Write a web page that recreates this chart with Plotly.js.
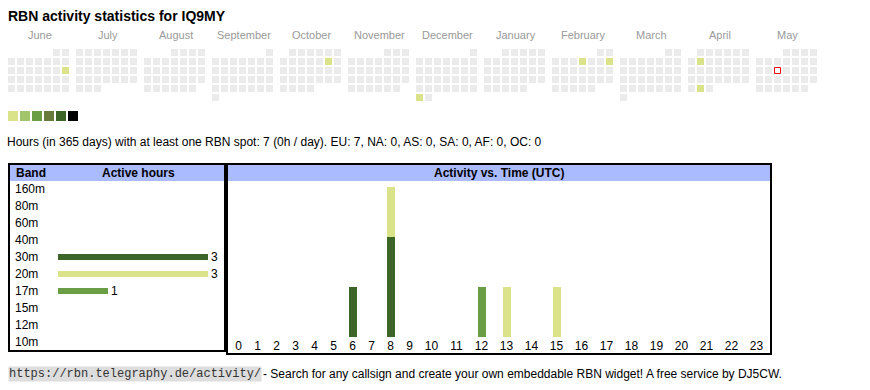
<!DOCTYPE html>
<html><head><meta charset="utf-8">
<script src="https://cdn.plot.ly/plotly-3.0.1.min.js"></script>
<style>html,body{margin:0;padding:0;background:#fff}</style>
</head><body><div id="chart" style="width:870px;height:390px"></div>
<script>
// ---------- data ----------
const callsign = 'IQ9MY';
const monthNames = ['June','July','August','September','October','November','December','January','February','March','April','May'];
const monthYears = [2024,2024,2024,2024,2024,2024,2024,2025,2025,2025,2025,2025];
const monthNums  = [6,7,8,9,10,11,12,1,2,3,4,5];
const activeDays   = ['2024-06-16','2024-10-12','2024-12-30','2025-02-06','2025-02-09','2025-04-08','2025-04-29'];
const activeLevels = [1,1,1,1,1,1,1];
const todayDate = '2025-05-14';
const levelColors = ['#dbe38a','#a2c46a','#6a9e44','#697b3c','#3c6527','#000000'];
const bands      = ['160m','80m','60m','40m','30m','20m','17m','15m','12m','10m'];
const bandHours  = [0,0,0,0,3,3,1,0,0,0];
const bandColors = ['#7a1f5c','#a33b3b','#c46a2a','#3a6ea5','#3c6527','#dbe38a','#6a9e44','#2a8a8a','#6a4aa5','#a58a2a'];
const hourLabels = ['0','1','2','3','4','5','6','7','8','9','10','11','12','13','14','15','16','17','18','19','20','21','22','23'];
const hours30m = [0,0,0,0,0,0,1,0,2,0,0,0,0,0,0,0,0,0,0,0,0,0,0,0];
const hours20m = [0,0,0,0,0,0,0,0,1,0,0,0,0,1,0,1,0,0,0,0,0,0,0,0];
const hours17m = [0,0,0,0,0,0,0,0,0,0,0,0,1,0,0,0,0,0,0,0,0,0,0,0];
const summaryText = 'Hours (in 365 days) with at least one RBN spot: 7 (0h / day). EU: 7, NA: 0, AS: 0, SA: 0, AF: 0, OC: 0';
const footerUrl = 'https://rbn.telegraphy.de/activity/';
const footerText = '- Search for any callsign and create your own embeddable RBN widget! A free service by DJ5CW.';

// ---------- layout helpers ----------
const W = 870, H = 390;
const px = x => x / W;
const py = y => 1 - y / H;
const FONT = 'Arial, "Liberation Sans", sans-serif';
const CAL_X0 = 8, CAL_Y0 = 49, CELL = 9, BLOCK = 68;

// calendar cells
function cellPos(y, m, d) {
  const mi = monthYears.findIndex((yy, i) => yy === y && monthNums[i] === m);
  const first = (new Date(Date.UTC(y, m - 1, 1)).getUTCDay() + 6) % 7; // Monday = 0
  const idx = first + d - 1;
  return [CAL_X0 + mi * BLOCK + (idx % 7) * CELL + 3.5, CAL_Y0 + Math.floor(idx / 7) * CELL + 3.5];
}
const gx = [], gy = [];
monthNums.forEach((m, i) => {
  const y = monthYears[i];
  const n = new Date(Date.UTC(y, m, 0)).getUTCDate();
  for (let d = 1; d <= n; d++) { const p = cellPos(y, m, d); gx.push(p[0]); gy.push(p[1]); }
});
const ax = [], ay = [], ac = [];
activeDays.forEach((s, i) => {
  const [y, m, d] = s.split('-').map(Number);
  const p = cellPos(y, m, d); ax.push(p[0]); ay.push(p[1]); ac.push(levelColors[activeLevels[i] - 1]);
});
const tp = cellPos(...todayDate.split('-').map(Number));

// hour columns (HTML-table-like widths from label length)
const colW = hourLabels.map(l => 13 + 6 * l.length);
const hourCenters = [];
colW.reduce((acc, w) => { hourCenters.push(acc + w / 2); return acc + w; }, 0);

const traces = [
  {type:'scatter', mode:'markers', x:gx, y:gy, xaxis:'x', yaxis:'y', hoverinfo:'skip',
   marker:{symbol:'square', size:7, color:'#ebebeb', line:{width:0}}},
  {type:'scatter', mode:'markers', x:ax, y:ay, xaxis:'x', yaxis:'y', hoverinfo:'skip',
   marker:{symbol:'square', size:7, color:ac, line:{width:0}}},
  {type:'scatter', mode:'markers', x:[tp[0]], y:[tp[1]], xaxis:'x', yaxis:'y', hoverinfo:'skip',
   marker:{symbol:'square', size:6, color:'#ffffff', line:{width:1, color:'#ff0000'}}},
  {type:'scatter', mode:'markers', x:levelColors.map((c, i) => 13 + i * 12), y:levelColors.map(() => 116),
   xaxis:'x', yaxis:'y', hoverinfo:'skip',
   marker:{symbol:'square', size:10, color:levelColors, line:{width:0}}},
  {type:'bar', orientation:'h', x:bandHours, y:bands, xaxis:'x3', yaxis:'y3', width:0.41,
   marker:{color:bandColors, line:{width:0}},
   text:bandHours.map(v => v > 0 ? String(v) : ''), textposition:'outside', constraintext:'none',
   cliponaxis:false, textfont:{family:FONT, size:12, color:'#000'}, hoverinfo:'skip'},
  {type:'bar', x:hourCenters, y:hours30m, xaxis:'x2', yaxis:'y2', width:8, marker:{color:bandColors[4], line:{width:0}}, hoverinfo:'skip'},
  {type:'bar', x:hourCenters, y:hours20m, xaxis:'x2', yaxis:'y2', width:8, marker:{color:bandColors[5], line:{width:0}}, hoverinfo:'skip'},
  {type:'bar', x:hourCenters, y:hours17m, xaxis:'x2', yaxis:'y2', width:8, marker:{color:bandColors[6], line:{width:0}}, hoverinfo:'skip'}
];

const annotations = [
  {text:'RBN activity statistics for ' + callsign, x:px(6), y:py(16), xref:'paper', yref:'paper', xanchor:'left', yanchor:'middle',
   showarrow:false, font:{family:FONT, size:14, weight:'bold', color:'#000'}},
  {text:summaryText, x:px(5), y:py(142), xref:'paper', yref:'paper', xanchor:'left', yanchor:'middle',
   showarrow:false, font:{family:FONT, size:12, color:'#000'}},
  {text:'Band', x:px(14), y:py(173), xref:'paper', yref:'paper', xanchor:'left', yanchor:'middle',
   showarrow:false, font:{family:FONT, size:12, weight:'bold', color:'#000'}},
  {text:'Active hours', x:px(138), y:py(173), xref:'paper', yref:'paper', xanchor:'center', yanchor:'middle',
   showarrow:false, font:{family:FONT, size:12, weight:'bold', color:'#000'}},
  {text:'Activity vs. Time (UTC)', x:px(499), y:py(173), xref:'paper', yref:'paper', xanchor:'center', yanchor:'middle',
   showarrow:false, font:{family:FONT, size:12, weight:'bold', color:'#000'}},
  {text:footerUrl, x:px(8), y:py(374), xref:'paper', yref:'paper', xanchor:'left', yanchor:'middle',
   showarrow:false, bgcolor:'#dddddd', borderpad:0, font:{family:'"Courier New", "Liberation Mono", monospace', size:12, color:'#333'}},
  {text:footerText, x:px(261), y:py(374), xref:'paper', yref:'paper', xanchor:'left', yanchor:'middle',
   showarrow:false, font:{family:FONT, size:12, color:'#000'}}
];
monthNames.forEach((m, i) => annotations.push({
  text:m, x:px(CAL_X0 + i * BLOCK + 31.5), y:py(35), xref:'paper', yref:'paper', xanchor:'center', yanchor:'middle',
  showarrow:false, font:{family:FONT, size:11, color:'#999'}}));

const shapes = [
  {type:'rect', xref:'paper', yref:'paper', x0:px(10), x1:px(225), y0:py(165), y1:py(181), fillcolor:'#aabbff', line:{width:0}, layer:'below'},
  {type:'rect', xref:'paper', yref:'paper', x0:px(227), x1:px(771), y0:py(165), y1:py(181), fillcolor:'#aabbff', line:{width:0}, layer:'below'},
  {type:'rect', xref:'paper', yref:'paper', x0:px(9), x1:px(225), y0:py(164), y1:py(351), line:{width:2, color:'#000'}},
  {type:'rect', xref:'paper', yref:'paper', x0:px(227), x1:px(771), y0:py(164), y1:py(354), line:{width:2, color:'#000'}}
];

const layout = {
  width:W, height:H, margin:{l:0, r:0, t:0, b:0, pad:0},
  paper_bgcolor:'#ffffff', plot_bgcolor:'rgba(0,0,0,0)', showlegend:false, barmode:'stack',
  font:{family:FONT, size:12, color:'#000'},
  xaxis:{domain:[0,1], range:[0,W], visible:false, fixedrange:true},
  yaxis:{domain:[0,1], range:[H,0], visible:false, fixedrange:true},
  xaxis2:{domain:[px(229), px(769)], range:[0,540], anchor:'y2', tickvals:hourCenters, ticktext:hourLabels,
    showgrid:false, zeroline:false, showline:false, ticks:'', ticklabelstandoff:0, tickfont:{family:FONT, size:12, color:'#000'}},
  yaxis2:{domain:[py(337), py(181)], range:[0,3.12], anchor:'x2', visible:false},
  xaxis3:{domain:[px(10), px(224)], range:[-0.96, 3.32], anchor:'y3', visible:false},
  yaxis3:{domain:[py(350.5), py(180.5)], type:'category', categoryarray:bands, categoryorder:'array', range:[9.5,-0.5],
    anchor:'x3', ticklabelposition:'inside', ticks:'', ticklabelstandoff:2, showgrid:false, showline:false, zeroline:false,
    tickfont:{family:FONT, size:12, color:'#000'}},
  annotations:annotations, shapes:shapes
};
Plotly.newPlot('chart', traces, layout, {displayModeBar:false, staticPlot:true});
</script></body></html>
